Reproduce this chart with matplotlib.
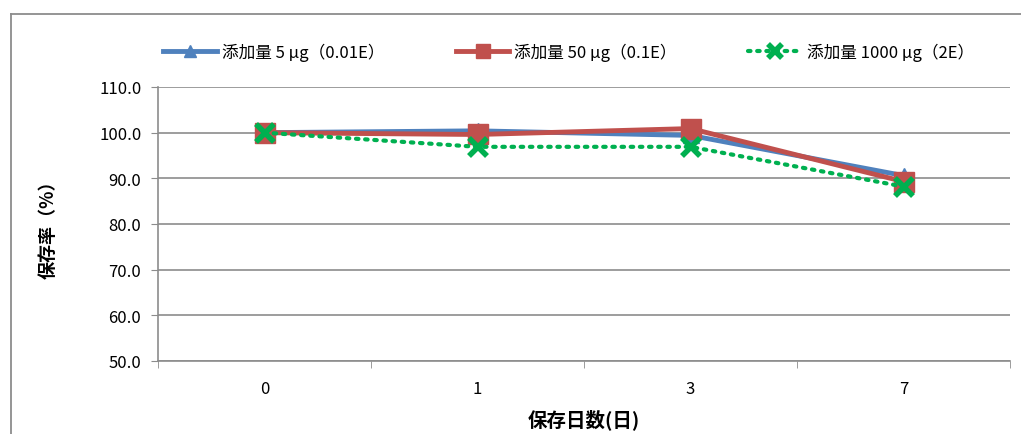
import matplotlib
matplotlib.use('Agg')
from matplotlib import pyplot as plt
from matplotlib.lines import Line2D

plt.rcParams['font.family'] = ['Noto Sans CJK JP', 'DejaVu Sans']

dias = ['0', '1', '3', '7']
serie_5ug = [100.0, 100.4, 99.4, 90.6]
serie_50ug = [100.0, 99.6, 100.9, 89.3]
serie_1000ug = [100.0, 96.9, 96.9, 88.2]
nombres = ['添加量 5 μg（0.01E）', '添加量 50 μg（0.1E）', '添加量 1000 μg（2E）']
y_ticks = [50, 60, 70, 80, 90, 100, 110]

gris = '#8c8c8c'
fig = plt.figure(figsize=(10.21, 4.35), dpi=100)
ax = fig.add_axes([158 / 1021, 1 - 362 / 435, 852 / 1021, 274 / 435])

# marco exterior del grafico
fig.add_artist(Line2D([10.5 / 1021, 10.5 / 1021], [0, 1 - 14.5 / 435],
                      transform=fig.transFigure, color=gris, lw=1.3))
fig.add_artist(Line2D([10.5 / 1021, 1], [1 - 14.5 / 435, 1 - 14.5 / 435],
                      transform=fig.transFigure, color=gris, lw=1.3))

x = list(range(len(dias)))
ax.plot(x, serie_5ug, color='#4f81bd', lw=3.5, marker='^', ms=11,
        label=nombres[0], zorder=3)
ax.plot(x, serie_50ug, color='#c0504d', lw=3.5, marker='s', ms=14,
        label=nombres[1], zorder=4)
ax.plot(x, serie_1000ug, color='#00b050', lw=3, ls=(0, (0.6, 1.6)),
        marker='x', ms=13, mew=4, label=nombres[2], zorder=5,
        dash_capstyle='round')

ax.set_xlim(-0.5, 3.5)
ax.set_ylim(50, 110)
ax.set_yticks(y_ticks)
ax.set_yticklabels([f'{v:.1f}' for v in y_ticks], fontsize=12)
ax.set_xticks(x)
ax.set_xticklabels(dias, fontsize=12)
ax.tick_params(axis='x', length=0, pad=14)
ax.set_xticks([-0.5, 0.5, 1.5, 2.5, 3.5], minor=True)
ax.tick_params(axis='x', which='minor', length=5, color=gris, direction='out')
ax.tick_params(axis='y', length=5, color=gris, pad=7)

ax.grid(True, axis='y', color=gris, lw=1.2)
ax.set_axisbelow(True)
for lado in ['top', 'right']:
    ax.spines[lado].set_visible(False)
for lado in ['left', 'bottom']:
    ax.spines[lado].set_color(gris)
    ax.spines[lado].set_linewidth(1.2)

ax.set_ylabel('保存率（%）', fontsize=13, fontweight='bold', labelpad=30)
ax.set_xlabel('保存日数(日)', fontsize=14, fontweight='bold', labelpad=8)

ax.legend(loc='lower center', bbox_to_anchor=(0.482, 1.04), ncol=3,
          frameon=False, fontsize=12, handlelength=3.2, columnspacing=4.3,
          handletextpad=0.3, markerscale=0.75)

plt.savefig('out.png', dpi=100)
